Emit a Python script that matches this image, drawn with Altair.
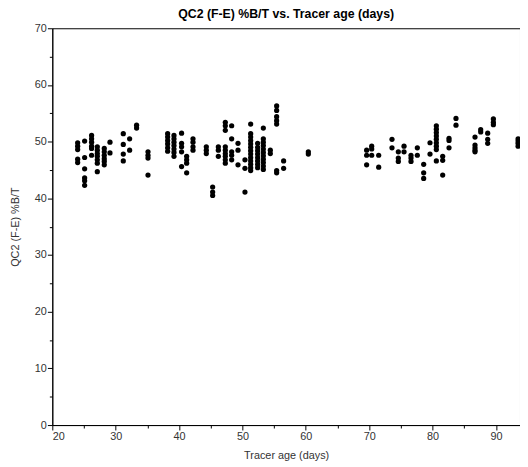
import altair as alt
import pandas as pd

# Tracer age (days) for each vertical group of measurements
ages = [24.0, 25.1, 26.2, 27.1, 28.2, 29.1, 31.2, 32.2, 33.3, 35.1,
        38.2, 39.2, 40.4, 41.2, 42.2, 44.3, 45.3, 46.2, 47.3, 48.3,
        49.3, 50.4, 51.3, 52.4, 53.3, 54.4, 55.4, 56.5, 60.4, 69.6,
        70.4, 71.5, 73.6, 74.6, 75.5, 76.6, 77.6, 78.6, 79.6, 80.6,
        81.6, 82.6, 83.7, 86.7, 87.6, 88.7, 89.6, 93.5]

# QC2 (F-E) %B/T values measured at each age above
bt_values = [
    [49.8, 49.2, 48.6, 46.9, 46.3],
    [50.1, 47.2, 45.2, 43.6, 43.1, 42.3],
    [51.1, 50.5, 49.9, 49.2, 48.8, 47.6],
    [49.1, 48.5, 47.9, 47.4, 46.8, 46.2, 44.7],
    [48.8, 48.2, 47.6, 47.0, 46.5, 45.9],
    [49.9, 48.0],
    [51.4, 49.5, 47.8, 46.6],
    [50.5, 48.5],
    [52.9, 52.4],
    [48.2, 47.6, 47.1, 44.1],
    [51.4, 50.8, 50.2, 49.6, 48.9, 48.3],
    [51.1, 50.5, 49.9, 49.3, 48.7, 48.1, 47.4],
    [51.5, 49.7, 49.1, 48.2, 45.6],
    [47.4, 46.8, 46.2, 44.5],
    [50.5, 49.9, 49.1, 48.5],
    [49.1, 48.5, 47.9],
    [42.0, 41.1, 40.5],
    [49.1, 48.5, 47.4],
    [53.4, 52.8, 52.0, 49.1, 48.5, 47.9, 47.4, 46.8, 46.2],
    [52.8, 50.5, 48.2, 47.6, 46.8],
    [49.7, 48.5, 45.9],
    [46.8, 45.3, 41.1],
    [53.1, 51.4, 50.8, 50.2, 49.6, 49.0, 48.4, 47.8, 47.2, 46.6, 46.0, 45.4, 44.9],
    [49.7, 49.0, 48.4, 47.8, 47.2, 46.6, 46.0, 45.4],
    [52.4, 50.5, 49.9, 49.3, 48.7, 48.1, 47.5, 46.9, 46.3, 45.7, 45.1],
    [48.5, 47.9],
    [56.3, 55.5, 54.4, 53.7, 53.1, 44.9, 44.5],
    [46.6, 45.3],
    [48.2, 47.8],
    [48.5, 47.6, 45.9],
    [49.2, 48.7, 47.6],
    [47.6, 45.5],
    [50.4, 48.9],
    [48.2, 47.1, 46.5],
    [49.2, 48.2],
    [47.6, 47.1, 46.5],
    [48.9, 47.6],
    [46.0, 44.5, 43.5],
    [49.8, 47.8],
    [52.8, 52.2, 51.6, 51.0, 50.4, 49.8, 49.2, 48.6, 46.6],
    [47.4, 46.7, 44.1],
    [50.6, 50.2, 48.9],
    [54.1, 52.9],
    [50.8, 49.4, 48.9, 48.5, 48.2],
    [52.1, 51.7],
    [51.5, 50.4, 49.7],
    [54.0, 53.4, 53.0],
    [50.5, 50.1, 49.7, 49.2],
]

x_ticks = [20, 25, 30, 35, 40, 45, 50, 55, 60, 65, 70, 75, 80, 85, 90]
y_ticks = [0, 5, 10, 15, 20, 25, 30, 35, 40, 45, 50, 55, 60, 65, 70]

rows = []
for a, vals in zip(ages, bt_values):
    for v in vals:
        rows.append({"age": a, "bt": v})
df = pd.DataFrame(rows)

tick_size = {"condition": {"test": "datum.value % 10 === 0", "value": 5}, "value": 3}

chart = alt.Chart(df).mark_circle(size=28, color="black", opacity=1).encode(
    x=alt.X("age:Q",
            scale=alt.Scale(domain=[20, 93.8], nice=False, zero=False),
            axis=alt.Axis(values=x_ticks, grid=False, title="Tracer age (days)",
                          labelExpr="datum.value % 10 === 0 ? datum.label : ''",
                          tickSize=tick_size, labelPadding=1, titlePadding=8)),
    y=alt.Y("bt:Q",
            scale=alt.Scale(domain=[0, 70], nice=False),
            axis=alt.Axis(values=y_ticks, grid=False, title="QC2 (F-E) %B/T",
                          labelExpr="datum.value % 10 === 0 ? datum.label : ''",
                          tickSize=tick_size, labelPadding=1, titlePadding=14)),
).properties(
    width=475,
    height=403,
    title=alt.TitleParams("QC2 (F-E) %B/T vs. Tracer age (days)", font="Liberation Sans",
                          fontSize=12.5, fontWeight="bold", color="black",
                          anchor="middle", offset=2),
    autosize=alt.AutoSizeParams(type="none"),
    padding={"left": 45, "top": 17, "right": 0, "bottom": 38},
).configure_view(
    stroke="black", strokeWidth=1
).configure_axis(
    domainColor="black", tickColor="black", labelColor="#333333",
    labelFont="Liberation Sans", labelFontSize=11,
    titleFont="Liberation Sans", titleFontSize=11, titleFontWeight="normal",
    titleColor="#333333",
)

chart.save("out.html", embed_options={"renderer": "svg", "actions": False})
